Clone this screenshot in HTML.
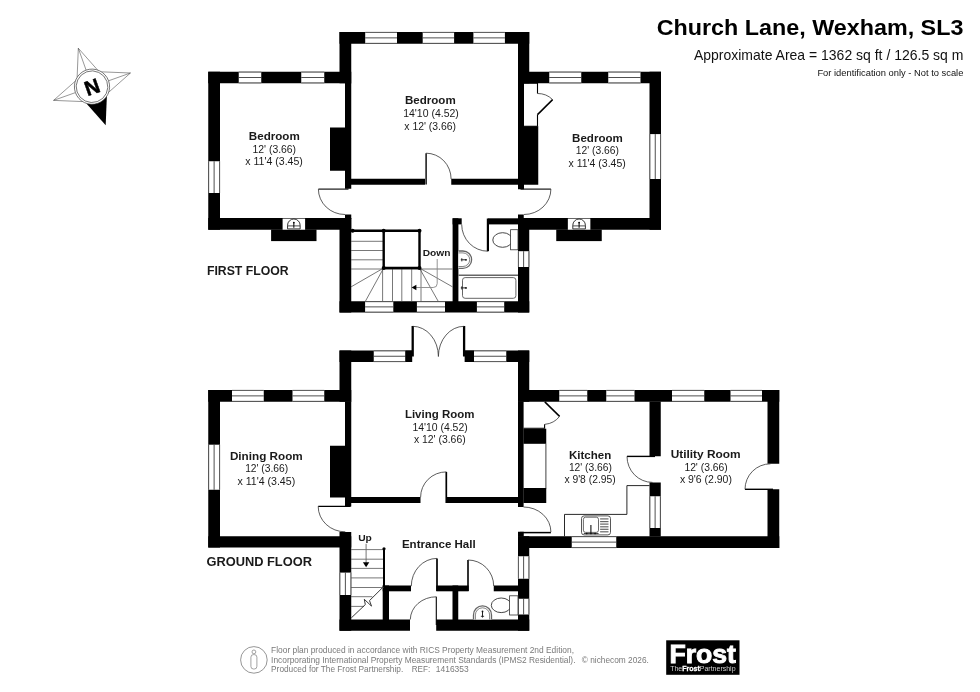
<!DOCTYPE html>
<html><head><meta charset="utf-8"><title>Church Lane, Wexham, SL3 - Floor plan</title>
<style>
html,body{margin:0;padding:0;background:#fff;}
body{width:980px;height:692px;overflow:hidden;font-family:"Liberation Sans",sans-serif;}
svg{display:block;will-change:transform;filter:grayscale(1);font-family:"Liberation Sans",sans-serif;}
</style></head><body>
<svg width="980" height="692" viewBox="0 0 980 692">
<rect width="980" height="692" fill="#fff"/>
<rect x="208.25" y="71.75" width="143.00" height="11.50" fill="#000"/>
<rect x="208.25" y="71.75" width="11.75" height="158.00" fill="#000"/>
<rect x="208.25" y="218.00" width="143.00" height="11.75" fill="#000"/>
<rect x="271.10" y="229.50" width="45.40" height="11.60" fill="#000"/>
<rect x="238.75" y="71.75" width="22.50" height="11.50" fill="#fff"/>
<line x1="238.75" y1="72.15" x2="261.25" y2="72.15" stroke="#222" stroke-width="0.8"/>
<line x1="238.75" y1="77.50" x2="261.25" y2="77.50" stroke="#222" stroke-width="0.8"/>
<line x1="238.75" y1="82.85" x2="261.25" y2="82.85" stroke="#222" stroke-width="0.8"/>
<rect x="301.25" y="71.75" width="23.00" height="11.50" fill="#fff"/>
<line x1="301.25" y1="72.15" x2="324.25" y2="72.15" stroke="#222" stroke-width="0.8"/>
<line x1="301.25" y1="77.50" x2="324.25" y2="77.50" stroke="#222" stroke-width="0.8"/>
<line x1="301.25" y1="82.85" x2="324.25" y2="82.85" stroke="#222" stroke-width="0.8"/>
<rect x="208.25" y="161.25" width="11.75" height="31.75" fill="#fff"/>
<line x1="208.65" y1="161.25" x2="208.65" y2="193.00" stroke="#222" stroke-width="0.8"/>
<line x1="214.12" y1="161.25" x2="214.12" y2="193.00" stroke="#222" stroke-width="0.8"/>
<line x1="219.60" y1="161.25" x2="219.60" y2="193.00" stroke="#222" stroke-width="0.8"/>
<rect x="339.50" y="32.00" width="189.75" height="11.75" fill="#000"/>
<rect x="339.50" y="32.00" width="11.75" height="51.25" fill="#000"/>
<rect x="345.00" y="83.00" width="6.25" height="105.75" fill="#000"/>
<rect x="518.00" y="32.00" width="11.25" height="51.25" fill="#000"/>
<rect x="518.00" y="83.00" width="6.00" height="106.25" fill="#000"/>
<rect x="351.00" y="178.75" width="74.00" height="6.00" fill="#000"/>
<rect x="451.25" y="178.75" width="67.25" height="6.00" fill="#000"/>
<rect x="365.20" y="32.00" width="31.80" height="11.75" fill="#fff"/>
<line x1="365.20" y1="32.40" x2="397.00" y2="32.40" stroke="#222" stroke-width="0.8"/>
<line x1="365.20" y1="37.88" x2="397.00" y2="37.88" stroke="#222" stroke-width="0.8"/>
<line x1="365.20" y1="43.35" x2="397.00" y2="43.35" stroke="#222" stroke-width="0.8"/>
<rect x="422.70" y="32.00" width="31.40" height="11.75" fill="#fff"/>
<line x1="422.70" y1="32.40" x2="454.10" y2="32.40" stroke="#222" stroke-width="0.8"/>
<line x1="422.70" y1="37.88" x2="454.10" y2="37.88" stroke="#222" stroke-width="0.8"/>
<line x1="422.70" y1="43.35" x2="454.10" y2="43.35" stroke="#222" stroke-width="0.8"/>
<rect x="473.40" y="32.00" width="31.50" height="11.75" fill="#fff"/>
<line x1="473.40" y1="32.40" x2="504.90" y2="32.40" stroke="#222" stroke-width="0.8"/>
<line x1="473.40" y1="37.88" x2="504.90" y2="37.88" stroke="#222" stroke-width="0.8"/>
<line x1="473.40" y1="43.35" x2="504.90" y2="43.35" stroke="#222" stroke-width="0.8"/>
<rect x="518.00" y="71.75" width="143.00" height="11.50" fill="#000"/>
<rect x="649.50" y="71.75" width="11.50" height="158.00" fill="#000"/>
<rect x="518.00" y="218.00" width="143.00" height="11.75" fill="#000"/>
<rect x="556.25" y="229.50" width="45.50" height="11.60" fill="#000"/>
<rect x="549.25" y="71.75" width="32.00" height="11.50" fill="#fff"/>
<line x1="549.25" y1="72.15" x2="581.25" y2="72.15" stroke="#222" stroke-width="0.8"/>
<line x1="549.25" y1="77.50" x2="581.25" y2="77.50" stroke="#222" stroke-width="0.8"/>
<line x1="549.25" y1="82.85" x2="581.25" y2="82.85" stroke="#222" stroke-width="0.8"/>
<rect x="608.25" y="71.75" width="32.25" height="11.50" fill="#fff"/>
<line x1="608.25" y1="72.15" x2="640.50" y2="72.15" stroke="#222" stroke-width="0.8"/>
<line x1="608.25" y1="77.50" x2="640.50" y2="77.50" stroke="#222" stroke-width="0.8"/>
<line x1="608.25" y1="82.85" x2="640.50" y2="82.85" stroke="#222" stroke-width="0.8"/>
<rect x="649.50" y="134.10" width="11.50" height="44.90" fill="#fff"/>
<line x1="649.90" y1="134.10" x2="649.90" y2="179.00" stroke="#222" stroke-width="0.8"/>
<line x1="655.25" y1="134.10" x2="655.25" y2="179.00" stroke="#222" stroke-width="0.8"/>
<line x1="660.60" y1="134.10" x2="660.60" y2="179.00" stroke="#222" stroke-width="0.8"/>
<rect x="330.00" y="127.50" width="16.00" height="43.25" fill="#000"/>
<rect x="523.50" y="126.25" width="14.75" height="58.50" fill="#000"/>
<rect x="339.50" y="218.00" width="11.75" height="94.50" fill="#000"/>
<rect x="345.00" y="214.50" width="6.25" height="4.50" fill="#000"/>
<rect x="339.50" y="301.25" width="189.75" height="11.25" fill="#000"/>
<rect x="518.00" y="218.00" width="11.25" height="94.50" fill="#000"/>
<rect x="518.00" y="214.50" width="5.75" height="4.50" fill="#000"/>
<rect x="452.60" y="218.30" width="5.80" height="83.70" fill="#000"/>
<rect x="452.60" y="218.30" width="9.10" height="6.10" fill="#000"/>
<rect x="488.30" y="218.30" width="30.20" height="6.10" fill="#000"/>
<rect x="365.10" y="301.25" width="28.20" height="11.25" fill="#fff"/>
<line x1="365.10" y1="301.65" x2="393.30" y2="301.65" stroke="#222" stroke-width="0.8"/>
<line x1="365.10" y1="306.88" x2="393.30" y2="306.88" stroke="#222" stroke-width="0.8"/>
<line x1="365.10" y1="312.10" x2="393.30" y2="312.10" stroke="#222" stroke-width="0.8"/>
<rect x="416.90" y="301.25" width="28.10" height="11.25" fill="#fff"/>
<line x1="416.90" y1="301.65" x2="445.00" y2="301.65" stroke="#222" stroke-width="0.8"/>
<line x1="416.90" y1="306.88" x2="445.00" y2="306.88" stroke="#222" stroke-width="0.8"/>
<line x1="416.90" y1="312.10" x2="445.00" y2="312.10" stroke="#222" stroke-width="0.8"/>
<rect x="476.90" y="301.25" width="27.30" height="11.25" fill="#fff"/>
<line x1="476.90" y1="301.65" x2="504.20" y2="301.65" stroke="#222" stroke-width="0.8"/>
<line x1="476.90" y1="306.88" x2="504.20" y2="306.88" stroke="#222" stroke-width="0.8"/>
<line x1="476.90" y1="312.10" x2="504.20" y2="312.10" stroke="#222" stroke-width="0.8"/>
<rect x="518.00" y="251.20" width="11.25" height="15.80" fill="#fff"/>
<line x1="518.40" y1="251.20" x2="518.40" y2="267.00" stroke="#222" stroke-width="0.8"/>
<line x1="523.62" y1="251.20" x2="523.62" y2="267.00" stroke="#222" stroke-width="0.8"/>
<line x1="528.85" y1="251.20" x2="528.85" y2="267.00" stroke="#222" stroke-width="0.8"/>
<rect x="208.25" y="390.00" width="143.00" height="11.75" fill="#000"/>
<rect x="208.25" y="390.00" width="11.75" height="157.50" fill="#000"/>
<rect x="208.25" y="536.25" width="143.00" height="11.25" fill="#000"/>
<rect x="232.00" y="390.00" width="31.75" height="11.75" fill="#fff"/>
<line x1="232.00" y1="390.40" x2="263.75" y2="390.40" stroke="#222" stroke-width="0.8"/>
<line x1="232.00" y1="395.88" x2="263.75" y2="395.88" stroke="#222" stroke-width="0.8"/>
<line x1="232.00" y1="401.35" x2="263.75" y2="401.35" stroke="#222" stroke-width="0.8"/>
<rect x="292.50" y="390.00" width="31.75" height="11.75" fill="#fff"/>
<line x1="292.50" y1="390.40" x2="324.25" y2="390.40" stroke="#222" stroke-width="0.8"/>
<line x1="292.50" y1="395.88" x2="324.25" y2="395.88" stroke="#222" stroke-width="0.8"/>
<line x1="292.50" y1="401.35" x2="324.25" y2="401.35" stroke="#222" stroke-width="0.8"/>
<rect x="208.25" y="444.70" width="11.75" height="45.05" fill="#fff"/>
<line x1="208.65" y1="444.70" x2="208.65" y2="489.75" stroke="#222" stroke-width="0.8"/>
<line x1="214.12" y1="444.70" x2="214.12" y2="489.75" stroke="#222" stroke-width="0.8"/>
<line x1="219.60" y1="444.70" x2="219.60" y2="489.75" stroke="#222" stroke-width="0.8"/>
<rect x="330.00" y="445.75" width="16.00" height="51.75" fill="#000"/>
<rect x="339.50" y="350.50" width="72.50" height="11.50" fill="#000"/>
<rect x="464.80" y="350.50" width="64.45" height="11.50" fill="#000"/>
<rect x="339.50" y="350.50" width="11.75" height="51.25" fill="#000"/>
<rect x="345.00" y="401.50" width="6.25" height="105.00" fill="#000"/>
<rect x="518.00" y="350.50" width="11.25" height="51.25" fill="#000"/>
<rect x="518.00" y="401.50" width="5.60" height="105.50" fill="#000"/>
<rect x="351.00" y="497.00" width="69.50" height="6.00" fill="#000"/>
<rect x="446.25" y="497.00" width="72.25" height="6.00" fill="#000"/>
<rect x="373.75" y="350.50" width="31.75" height="11.50" fill="#fff"/>
<line x1="373.75" y1="350.90" x2="405.50" y2="350.90" stroke="#222" stroke-width="0.8"/>
<line x1="373.75" y1="356.25" x2="405.50" y2="356.25" stroke="#222" stroke-width="0.8"/>
<line x1="373.75" y1="361.60" x2="405.50" y2="361.60" stroke="#222" stroke-width="0.8"/>
<rect x="473.90" y="350.50" width="32.35" height="11.50" fill="#fff"/>
<line x1="473.90" y1="350.90" x2="506.25" y2="350.90" stroke="#222" stroke-width="0.8"/>
<line x1="473.90" y1="356.25" x2="506.25" y2="356.25" stroke="#222" stroke-width="0.8"/>
<line x1="473.90" y1="361.60" x2="506.25" y2="361.60" stroke="#222" stroke-width="0.8"/>
<rect x="518.00" y="390.00" width="261.25" height="11.75" fill="#000"/>
<rect x="767.50" y="390.00" width="11.75" height="73.75" fill="#000"/>
<rect x="767.50" y="489.25" width="11.75" height="58.75" fill="#000"/>
<rect x="518.00" y="536.25" width="261.25" height="11.75" fill="#000"/>
<rect x="649.50" y="401.50" width="11.25" height="54.75" fill="#000"/>
<rect x="649.50" y="482.50" width="11.25" height="54.00" fill="#000"/>
<rect x="559.25" y="390.00" width="28.00" height="11.75" fill="#fff"/>
<line x1="559.25" y1="390.40" x2="587.25" y2="390.40" stroke="#222" stroke-width="0.8"/>
<line x1="559.25" y1="395.88" x2="587.25" y2="395.88" stroke="#222" stroke-width="0.8"/>
<line x1="559.25" y1="401.35" x2="587.25" y2="401.35" stroke="#222" stroke-width="0.8"/>
<rect x="606.25" y="390.00" width="28.25" height="11.75" fill="#fff"/>
<line x1="606.25" y1="390.40" x2="634.50" y2="390.40" stroke="#222" stroke-width="0.8"/>
<line x1="606.25" y1="395.88" x2="634.50" y2="395.88" stroke="#222" stroke-width="0.8"/>
<line x1="606.25" y1="401.35" x2="634.50" y2="401.35" stroke="#222" stroke-width="0.8"/>
<rect x="672.00" y="390.00" width="32.25" height="11.75" fill="#fff"/>
<line x1="672.00" y1="390.40" x2="704.25" y2="390.40" stroke="#222" stroke-width="0.8"/>
<line x1="672.00" y1="395.88" x2="704.25" y2="395.88" stroke="#222" stroke-width="0.8"/>
<line x1="672.00" y1="401.35" x2="704.25" y2="401.35" stroke="#222" stroke-width="0.8"/>
<rect x="730.50" y="390.00" width="31.50" height="11.75" fill="#fff"/>
<line x1="730.50" y1="390.40" x2="762.00" y2="390.40" stroke="#222" stroke-width="0.8"/>
<line x1="730.50" y1="395.88" x2="762.00" y2="395.88" stroke="#222" stroke-width="0.8"/>
<line x1="730.50" y1="401.35" x2="762.00" y2="401.35" stroke="#222" stroke-width="0.8"/>
<rect x="571.75" y="536.25" width="44.50" height="11.75" fill="#fff"/>
<line x1="571.75" y1="536.65" x2="616.25" y2="536.65" stroke="#222" stroke-width="0.8"/>
<line x1="571.75" y1="542.12" x2="616.25" y2="542.12" stroke="#222" stroke-width="0.8"/>
<line x1="571.75" y1="547.60" x2="616.25" y2="547.60" stroke="#222" stroke-width="0.8"/>
<rect x="649.50" y="496.25" width="11.25" height="31.75" fill="#fff"/>
<line x1="649.90" y1="496.25" x2="649.90" y2="528.00" stroke="#222" stroke-width="0.8"/>
<line x1="655.12" y1="496.25" x2="655.12" y2="528.00" stroke="#222" stroke-width="0.8"/>
<line x1="660.35" y1="496.25" x2="660.35" y2="528.00" stroke="#222" stroke-width="0.8"/>
<rect x="523.40" y="428.70" width="22.85" height="15.10" fill="#000"/>
<rect x="523.40" y="488.00" width="22.85" height="15.00" fill="#000"/>
<rect x="518.00" y="531.75" width="5.75" height="4.75" fill="#000"/>
<rect x="339.50" y="532.00" width="11.75" height="98.75" fill="#000"/>
<rect x="518.00" y="536.25" width="11.25" height="94.50" fill="#000"/>
<rect x="339.50" y="619.50" width="70.50" height="11.25" fill="#000"/>
<rect x="436.20" y="619.50" width="93.05" height="11.25" fill="#000"/>
<rect x="382.70" y="585.50" width="28.30" height="5.80" fill="#000"/>
<rect x="436.30" y="585.50" width="32.30" height="5.80" fill="#000"/>
<rect x="493.75" y="585.50" width="24.75" height="5.80" fill="#000"/>
<rect x="382.70" y="585.50" width="6.30" height="34.50" fill="#000"/>
<rect x="452.50" y="585.50" width="5.75" height="34.50" fill="#000"/>
<rect x="339.50" y="572.60" width="11.75" height="22.40" fill="#fff"/>
<line x1="339.90" y1="572.60" x2="339.90" y2="595.00" stroke="#222" stroke-width="0.8"/>
<line x1="345.38" y1="572.60" x2="345.38" y2="595.00" stroke="#222" stroke-width="0.8"/>
<line x1="350.85" y1="572.60" x2="350.85" y2="595.00" stroke="#222" stroke-width="0.8"/>
<rect x="518.00" y="556.25" width="11.25" height="22.50" fill="#fff"/>
<line x1="518.40" y1="556.25" x2="518.40" y2="578.75" stroke="#222" stroke-width="0.8"/>
<line x1="523.62" y1="556.25" x2="523.62" y2="578.75" stroke="#222" stroke-width="0.8"/>
<line x1="528.85" y1="556.25" x2="528.85" y2="578.75" stroke="#222" stroke-width="0.8"/>
<rect x="518.00" y="598.75" width="11.25" height="15.75" fill="#fff"/>
<line x1="518.40" y1="598.75" x2="518.40" y2="614.50" stroke="#222" stroke-width="0.8"/>
<line x1="523.62" y1="598.75" x2="523.62" y2="614.50" stroke="#222" stroke-width="0.8"/>
<line x1="528.85" y1="598.75" x2="528.85" y2="614.50" stroke="#222" stroke-width="0.8"/>
<line x1="426.10" y1="153.20" x2="426.10" y2="184.60" stroke="#000" stroke-width="1.4" stroke-linecap="butt"/>
<path d="M426.1,153.2 A25,25.8 0 0 1 451.1,179" stroke="#333" stroke-width="0.8" fill="none" />
<line x1="318.40" y1="189.10" x2="348.50" y2="189.10" stroke="#000" stroke-width="1.1" stroke-linecap="butt"/>
<path d="M318.4,189.1 A26.6,25.4 0 0 0 345,214.5" stroke="#333" stroke-width="0.8" fill="none" />
<line x1="520.50" y1="189.10" x2="550.90" y2="189.10" stroke="#000" stroke-width="1.1" stroke-linecap="butt"/>
<path d="M550.9,189.1 A27,25.4 0 0 1 523.9,214.5" stroke="#333" stroke-width="0.8" fill="none" />
<line x1="487.90" y1="218.50" x2="487.90" y2="251.20" stroke="#000" stroke-width="2.2" stroke-linecap="butt"/>
<path d="M461.7,224.4 A26.2,26.8 0 0 0 487.9,251.2" stroke="#333" stroke-width="0.8" fill="none" />
<path d="M524,83.25 H537.5 V93.5 M537.5,114.5 V126.25 H524" stroke="#000" stroke-width="1.1" fill="none" />
<path d="M537.5,93.5 A21.2,21.2 0 0 1 552.6,99.6" stroke="#333" stroke-width="0.8" fill="none" />
<line x1="552.60" y1="99.60" x2="537.50" y2="114.60" stroke="#000" stroke-width="1.5" stroke-linecap="butt"/>
<line x1="412.70" y1="326.00" x2="412.70" y2="356.50" stroke="#000" stroke-width="2.3" stroke-linecap="butt"/>
<line x1="464.10" y1="326.00" x2="464.10" y2="356.50" stroke="#000" stroke-width="2.3" stroke-linecap="butt"/>
<path d="M412.7,326.3 A25.7,30.2 0 0 1 438.4,356.5" stroke="#333" stroke-width="0.8" fill="none" />
<path d="M464.1,326.3 A25.7,30.2 0 0 0 438.4,356.5" stroke="#333" stroke-width="0.8" fill="none" />
<rect x="405.40" y="350.50" width="6.80" height="11.50" fill="#000"/>
<rect x="464.80" y="350.50" width="9.20" height="11.50" fill="#000"/>
<line x1="446.30" y1="471.90" x2="446.30" y2="503.00" stroke="#000" stroke-width="1.7" stroke-linecap="butt"/>
<path d="M446.3,471.9 A25.7,25.3 0 0 0 420.6,497.2" stroke="#333" stroke-width="0.8" fill="none" />
<line x1="318.20" y1="506.40" x2="350.50" y2="506.40" stroke="#000" stroke-width="1.3" stroke-linecap="butt"/>
<path d="M318.2,506.4 A27,25.4 0 0 0 345.3,531.8" stroke="#333" stroke-width="0.8" fill="none" />
<line x1="520.00" y1="532.60" x2="550.90" y2="532.60" stroke="#000" stroke-width="1.5" stroke-linecap="butt"/>
<path d="M550.9,532 A27.4,25 0 0 0 523.5,507" stroke="#333" stroke-width="0.8" fill="none" />
<line x1="627.00" y1="456.40" x2="655.00" y2="456.40" stroke="#000" stroke-width="1.4" stroke-linecap="butt"/>
<path d="M627,456.4 A25.5,26 0 0 0 652.5,482.4" stroke="#333" stroke-width="0.8" fill="none" />
<line x1="745.00" y1="489.30" x2="773.00" y2="489.30" stroke="#000" stroke-width="1.4" stroke-linecap="butt"/>
<path d="M745,489.3 A25.5,25.5 0 0 1 770.5,463.8" stroke="#333" stroke-width="0.8" fill="none" />
<line x1="437.00" y1="558.40" x2="437.00" y2="591.00" stroke="#000" stroke-width="1.7" stroke-linecap="butt"/>
<path d="M437,558.4 A25.7,27.8 0 0 0 411.3,586.2" stroke="#333" stroke-width="0.8" fill="none" />
<line x1="468.00" y1="560.00" x2="468.00" y2="591.00" stroke="#000" stroke-width="1.6" stroke-linecap="butt"/>
<path d="M468,560 A25.7,26 0 0 1 493.7,586" stroke="#333" stroke-width="0.8" fill="none" />
<line x1="436.30" y1="596.80" x2="436.30" y2="625.00" stroke="#000" stroke-width="1.1" stroke-linecap="butt"/>
<path d="M436.3,596.8 A26,23 0 0 0 410.3,619.5" stroke="#333" stroke-width="0.8" fill="none" />
<path d="M523.6,428.2 H544.6 V424.3" stroke="#000" stroke-width="1.1" fill="none" />
<line x1="544.80" y1="401.90" x2="559.60" y2="416.40" stroke="#000" stroke-width="1.5" stroke-linecap="butt"/>
<path d="M559.6,416.4 A21,21 0 0 1 545,424.3" stroke="#333" stroke-width="0.8" fill="none" />
<line x1="545.90" y1="443.75" x2="545.90" y2="488.50" stroke="#111" stroke-width="0.8" stroke-linecap="butt"/>
<path d="M649.5,485.6 H626.9 V514.4 H564.5 V536.25" stroke="#111" stroke-width="0.9" fill="none" />
<rect x="282.60" y="218.60" width="22.50" height="11.10" fill="#fff"/>
<path d="M287.55,228.9 V225.3 A6.3,6.3 0 0 1 300.15,225.3 V228.9 Z" stroke="#222" stroke-width="0.9" fill="none" />
<line x1="287.55" y1="225.90" x2="300.15" y2="225.90" stroke="#222" stroke-width="0.8" stroke-linecap="butt"/>
<line x1="293.85" y1="222.60" x2="293.85" y2="227.80" stroke="#000" stroke-width="1.0" stroke-linecap="butt"/>
<circle cx="293.85" cy="222.6" r="0.9" fill="#000"/>
<rect x="567.85" y="218.60" width="22.50" height="11.10" fill="#fff"/>
<path d="M572.80,228.9 V225.3 A6.3,6.3 0 0 1 585.40,225.3 V228.9 Z" stroke="#222" stroke-width="0.9" fill="none" />
<line x1="572.80" y1="225.90" x2="585.40" y2="225.90" stroke="#222" stroke-width="0.8" stroke-linecap="butt"/>
<line x1="579.10" y1="222.60" x2="579.10" y2="227.80" stroke="#000" stroke-width="1.0" stroke-linecap="butt"/>
<circle cx="579.10" cy="222.6" r="0.9" fill="#000"/>
<ellipse cx="502.6" cy="240" rx="9.8" ry="7.3" fill="#fff" stroke="#333" stroke-width="0.9"/>
<rect x="510.6" y="229.7" width="7.4" height="20.1" fill="#fff" stroke="#333" stroke-width="0.8"/>
<path d="M458.4,251 H462.9 A8.7,8.7 0 0 1 462.9,268.4 H458.4" stroke="#666" stroke-width="1.3" fill="#fff" />
<path d="M458.4,252.9 H462.9 A6.8,6.8 0 0 1 462.9,266.5 H458.4" stroke="#333" stroke-width="0.6" fill="none" />
<line x1="460.80" y1="259.80" x2="466.20" y2="259.80" stroke="#222" stroke-width="1.0" stroke-linecap="butt"/>
<line x1="461.80" y1="258.20" x2="461.80" y2="261.40" stroke="#222" stroke-width="0.9" stroke-linecap="butt"/>
<circle cx="466.00" cy="259.80" r="0.9" fill="#111"/>
<line x1="458.40" y1="275.30" x2="518.00" y2="275.30" stroke="#666" stroke-width="1.4" stroke-linecap="butt"/>
<rect x="462.5" y="277.6" width="53.4" height="20.7" rx="2.6" ry="2.6" fill="#fff" stroke="#555" stroke-width="0.9"/>
<line x1="460.80" y1="287.90" x2="466.20" y2="287.90" stroke="#222" stroke-width="1.0" stroke-linecap="butt"/>
<line x1="461.80" y1="286.30" x2="461.80" y2="289.50" stroke="#222" stroke-width="0.9" stroke-linecap="butt"/>
<circle cx="466.00" cy="287.90" r="0.9" fill="#111"/>
<ellipse cx="501.2" cy="605.3" rx="9.9" ry="7.3" fill="#fff" stroke="#333" stroke-width="0.9"/>
<rect x="509.6" y="595.8" width="8.4" height="19.2" fill="#fff" stroke="#333" stroke-width="0.8"/>
<path d="M473.5,619.5 V614.9 A9,9 0 0 1 491.5,614.9 V619.5" stroke="#666" stroke-width="1.3" fill="#fff" />
<path d="M475.4,619.5 V614.9 A7.1,7.1 0 0 1 489.6,614.9 V619.5" stroke="#333" stroke-width="0.6" fill="none" />
<line x1="482.50" y1="611.50" x2="482.50" y2="617.50" stroke="#222" stroke-width="1.0" stroke-linecap="butt"/>
<line x1="480.90" y1="616.30" x2="484.10" y2="616.30" stroke="#222" stroke-width="0.9" stroke-linecap="butt"/>
<circle cx="482.5" cy="611.5" r="0.9" fill="#111"/>
<rect x="581.5" y="515.9" width="29" height="19" rx="2.6" fill="#fff" stroke="#444" stroke-width="0.9"/>
<rect x="583.4" y="517.2" width="15.1" height="15.2" rx="2.2" fill="#fff" stroke="#444" stroke-width="0.8"/>
<line x1="600.10" y1="518.90" x2="608.50" y2="518.90" stroke="#666" stroke-width="1.2" stroke-linecap="butt"/>
<line x1="600.10" y1="521.60" x2="608.50" y2="521.60" stroke="#666" stroke-width="1.2" stroke-linecap="butt"/>
<line x1="600.10" y1="524.10" x2="608.50" y2="524.10" stroke="#666" stroke-width="1.2" stroke-linecap="butt"/>
<line x1="600.10" y1="526.80" x2="608.50" y2="526.80" stroke="#666" stroke-width="1.2" stroke-linecap="butt"/>
<line x1="600.10" y1="529.30" x2="608.50" y2="529.30" stroke="#666" stroke-width="1.2" stroke-linecap="butt"/>
<line x1="600.10" y1="531.80" x2="608.50" y2="531.80" stroke="#666" stroke-width="1.2" stroke-linecap="butt"/>
<line x1="590.90" y1="525.00" x2="590.90" y2="533.40" stroke="#111" stroke-width="1.1" stroke-linecap="butt"/>
<line x1="583.80" y1="533.50" x2="598.60" y2="533.50" stroke="#333" stroke-width="0.9" stroke-linecap="butt"/>
<circle cx="586.70" cy="533.5" r="0.85" fill="#111"/>
<circle cx="590.90" cy="533.5" r="0.85" fill="#111"/>
<circle cx="595.10" cy="533.5" r="0.85" fill="#111"/>
<line x1="351.00" y1="241.30" x2="383.70" y2="241.30" stroke="#555" stroke-width="0.8" stroke-linecap="butt"/>
<line x1="351.00" y1="250.50" x2="383.70" y2="250.50" stroke="#555" stroke-width="0.8" stroke-linecap="butt"/>
<line x1="351.00" y1="259.80" x2="383.70" y2="259.80" stroke="#555" stroke-width="0.8" stroke-linecap="butt"/>
<line x1="351.00" y1="269.00" x2="452.60" y2="269.00" stroke="#555" stroke-width="0.8" stroke-linecap="butt"/>
<line x1="382.60" y1="269.00" x2="382.60" y2="301.25" stroke="#555" stroke-width="0.8" stroke-linecap="butt"/>
<line x1="392.50" y1="269.00" x2="392.50" y2="301.25" stroke="#555" stroke-width="0.8" stroke-linecap="butt"/>
<line x1="401.80" y1="269.00" x2="401.80" y2="301.25" stroke="#555" stroke-width="0.8" stroke-linecap="butt"/>
<line x1="411.70" y1="269.00" x2="411.70" y2="301.25" stroke="#555" stroke-width="0.8" stroke-linecap="butt"/>
<line x1="421.00" y1="269.00" x2="421.00" y2="301.25" stroke="#555" stroke-width="0.8" stroke-linecap="butt"/>
<line x1="383.70" y1="268.00" x2="351.00" y2="286.90" stroke="#555" stroke-width="0.8" stroke-linecap="butt"/>
<line x1="383.70" y1="268.00" x2="365.40" y2="301.25" stroke="#555" stroke-width="0.8" stroke-linecap="butt"/>
<line x1="419.40" y1="268.00" x2="438.20" y2="301.25" stroke="#555" stroke-width="0.8" stroke-linecap="butt"/>
<line x1="419.40" y1="268.00" x2="452.60" y2="286.90" stroke="#555" stroke-width="0.8" stroke-linecap="butt"/>
<path d="M352.4,230.7 H419.5 V268 H383.7 V230.7" stroke="#000" stroke-width="2.4" fill="#fff" stroke-linejoin="round"/>
<circle cx="352.6" cy="230.7" r="2.0" fill="#000"/>
<circle cx="383.7" cy="230.7" r="2.0" fill="#000"/>
<circle cx="419.5" cy="230.7" r="2.0" fill="#000"/>
<circle cx="383.7" cy="268" r="2.0" fill="#000"/>
<circle cx="419.5" cy="268" r="2.0" fill="#000"/>
<path d="M437.2,259 V283.6 Q437.2,287.5 433.2,287.5 H416" stroke="#888" stroke-width="0.9" fill="none" />
<polygon points="411.6,287.5 416.4,284.7 416.4,290.3" fill="#000"/>
<line x1="351.00" y1="549.60" x2="383.50" y2="549.60" stroke="#555" stroke-width="0.8" stroke-linecap="butt"/>
<line x1="351.00" y1="559.20" x2="383.50" y2="559.20" stroke="#555" stroke-width="0.8" stroke-linecap="butt"/>
<line x1="351.00" y1="568.40" x2="383.50" y2="568.40" stroke="#555" stroke-width="0.8" stroke-linecap="butt"/>
<line x1="351.00" y1="577.90" x2="383.50" y2="577.90" stroke="#555" stroke-width="0.8" stroke-linecap="butt"/>
<line x1="351.00" y1="587.50" x2="383.50" y2="587.50" stroke="#555" stroke-width="0.8" stroke-linecap="butt"/>
<line x1="351.00" y1="596.70" x2="372.30" y2="596.70" stroke="#555" stroke-width="0.8" stroke-linecap="butt"/>
<line x1="351.00" y1="606.40" x2="364.00" y2="606.40" stroke="#555" stroke-width="0.8" stroke-linecap="butt"/>
<line x1="384.00" y1="548.80" x2="384.00" y2="586.00" stroke="#000" stroke-width="2.0" stroke-linecap="butt"/>
<circle cx="384" cy="548.8" r="1.6" fill="#000"/>
<path d="M351.3,617.9 L365.3,604.6 L364.3,599.3 L371.5,606.1 L369.5,600.6 L382.3,587.9" stroke="#222" stroke-width="0.9" fill="none" />
<line x1="366.10" y1="543.80" x2="366.10" y2="563.00" stroke="#666" stroke-width="0.9" stroke-linecap="butt"/>
<polygon points="366.1,567.2 362.9,562.2 369.3,562.2" fill="#000"/>
<text x="248.80" y="139.60" font-size="11.3" font-weight="bold" fill="#1a1a1a" textLength="51.00" lengthAdjust="spacingAndGlyphs">Bedroom</text>
<text x="252.50" y="152.50" font-size="10.2" font-weight="normal" fill="#1a1a1a" textLength="43.60" lengthAdjust="spacingAndGlyphs">12' (3.66)</text>
<text x="245.30" y="165.30" font-size="10.2" font-weight="normal" fill="#1a1a1a" textLength="57.60" lengthAdjust="spacingAndGlyphs">x 11'4 (3.45)</text>
<text x="404.90" y="103.90" font-size="11.3" font-weight="bold" fill="#1a1a1a" textLength="50.80" lengthAdjust="spacingAndGlyphs">Bedroom</text>
<text x="403.20" y="116.70" font-size="10.2" font-weight="normal" fill="#1a1a1a" textLength="55.60" lengthAdjust="spacingAndGlyphs">14'10 (4.52)</text>
<text x="404.30" y="129.70" font-size="10.2" font-weight="normal" fill="#1a1a1a" textLength="51.70" lengthAdjust="spacingAndGlyphs">x 12' (3.66)</text>
<text x="572.10" y="141.70" font-size="11.3" font-weight="bold" fill="#1a1a1a" textLength="50.70" lengthAdjust="spacingAndGlyphs">Bedroom</text>
<text x="575.80" y="154.30" font-size="10.2" font-weight="normal" fill="#1a1a1a" textLength="43.20" lengthAdjust="spacingAndGlyphs">12' (3.66)</text>
<text x="568.50" y="167.40" font-size="10.2" font-weight="normal" fill="#1a1a1a" textLength="57.30" lengthAdjust="spacingAndGlyphs">x 11'4 (3.45)</text>
<text x="229.90" y="459.50" font-size="11.3" font-weight="bold" fill="#1a1a1a" textLength="72.80" lengthAdjust="spacingAndGlyphs">Dining Room</text>
<text x="245.15" y="472.00" font-size="10.2" font-weight="normal" fill="#1a1a1a" textLength="43.05" lengthAdjust="spacingAndGlyphs">12' (3.66)</text>
<text x="237.40" y="484.50" font-size="10.2" font-weight="normal" fill="#1a1a1a" textLength="57.80" lengthAdjust="spacingAndGlyphs">x 11'4 (3.45)</text>
<text x="404.90" y="418.00" font-size="11.3" font-weight="bold" fill="#1a1a1a" textLength="69.55" lengthAdjust="spacingAndGlyphs">Living Room</text>
<text x="412.40" y="430.50" font-size="10.2" font-weight="normal" fill="#1a1a1a" textLength="55.30" lengthAdjust="spacingAndGlyphs">14'10 (4.52)</text>
<text x="413.90" y="443.00" font-size="10.2" font-weight="normal" fill="#1a1a1a" textLength="51.80" lengthAdjust="spacingAndGlyphs">x 12' (3.66)</text>
<text x="568.90" y="458.75" font-size="11.3" font-weight="bold" fill="#1a1a1a" textLength="42.30" lengthAdjust="spacingAndGlyphs">Kitchen</text>
<text x="568.90" y="470.75" font-size="10.2" font-weight="normal" fill="#1a1a1a" textLength="43.05" lengthAdjust="spacingAndGlyphs">12' (3.66)</text>
<text x="564.40" y="483.25" font-size="10.2" font-weight="normal" fill="#1a1a1a" textLength="51.30" lengthAdjust="spacingAndGlyphs">x 9'8 (2.95)</text>
<text x="670.65" y="458.00" font-size="11.3" font-weight="bold" fill="#1a1a1a" textLength="70.05" lengthAdjust="spacingAndGlyphs">Utility Room</text>
<text x="684.40" y="470.50" font-size="10.2" font-weight="normal" fill="#1a1a1a" textLength="43.30" lengthAdjust="spacingAndGlyphs">12' (3.66)</text>
<text x="679.90" y="483.25" font-size="10.2" font-weight="normal" fill="#1a1a1a" textLength="52.05" lengthAdjust="spacingAndGlyphs">x 9'6 (2.90)</text>
<text x="401.90" y="548.00" font-size="11.3" font-weight="bold" fill="#1a1a1a" textLength="73.80" lengthAdjust="spacingAndGlyphs">Entrance Hall</text>
<text x="422.70" y="256.40" font-size="9.7" font-weight="bold" fill="#1a1a1a" textLength="27.80" lengthAdjust="spacingAndGlyphs">Down</text>
<text x="358.20" y="540.90" font-size="9.3" font-weight="bold" fill="#1a1a1a" textLength="13.70" lengthAdjust="spacingAndGlyphs">Up</text>
<text x="206.90" y="274.50" font-size="12.3" font-weight="bold" fill="#1a1a1a" textLength="81.80" lengthAdjust="spacingAndGlyphs">FIRST FLOOR</text>
<text x="206.40" y="565.50" font-size="12.6" font-weight="bold" fill="#1a1a1a" textLength="105.55" lengthAdjust="spacingAndGlyphs">GROUND FLOOR</text>
<text x="656.70" y="35.20" font-size="22.5" font-weight="bold" fill="#000" textLength="306.70" lengthAdjust="spacingAndGlyphs">Church Lane, Wexham, SL3</text>
<text x="693.90" y="59.70" font-size="13.9" font-weight="normal" fill="#111" textLength="269.50" lengthAdjust="spacingAndGlyphs">Approximate Area = 1362 sq ft / 126.5 sq m</text>
<text x="817.40" y="76.30" font-size="9.3" font-weight="normal" fill="#111" textLength="146.00" lengthAdjust="spacingAndGlyphs">For identification only - Not to scale</text>
<text x="271.10" y="652.70" font-size="8.35" font-weight="normal" fill="#7a7a7a" textLength="302.90" lengthAdjust="spacingAndGlyphs">Floor plan produced in accordance with RICS Property Measurement 2nd Edition,</text>
<text x="271.10" y="662.50" font-size="8.35" font-weight="normal" fill="#7a7a7a" textLength="304.40" lengthAdjust="spacingAndGlyphs">Incorporating International Property Measurement Standards (IPMS2 Residential).</text>
<text x="581.80" y="662.50" font-size="8.35" font-weight="normal" fill="#7a7a7a" textLength="67.10" lengthAdjust="spacingAndGlyphs">© nichecom 2026.</text>
<text x="271.10" y="672.30" font-size="8.35" font-weight="normal" fill="#7a7a7a" textLength="132.10" lengthAdjust="spacingAndGlyphs">Produced for The Frost Partnership.</text>
<text x="411.70" y="672.30" font-size="8.35" font-weight="normal" fill="#7a7a7a" textLength="18.50" lengthAdjust="spacingAndGlyphs">REF:</text>
<text x="435.80" y="672.30" font-size="8.35" font-weight="normal" fill="#7a7a7a" textLength="32.90" lengthAdjust="spacingAndGlyphs">1416353</text>
<circle cx="253.9" cy="659.9" r="13.3" fill="none" stroke="#8a8a8a" stroke-width="0.9"/>
<circle cx="253.9" cy="651.9" r="1.9" fill="none" stroke="#8a8a8a" stroke-width="0.8"/>
<rect x="250.9" y="654.6" width="6" height="14.4" rx="2.6" fill="none" stroke="#8a8a8a" stroke-width="0.8"/>
<rect x="666.20" y="640.30" width="73.30" height="34.50" fill="#000"/>
<text x="669.4" y="662.7" font-size="25.6" font-weight="bold" fill="#fff" stroke="#fff" stroke-width="0.9" textLength="66.6" lengthAdjust="spacingAndGlyphs">Frost</text>
<text x="670.2" y="671.3" font-size="6.9" fill="#d0d0d0" textLength="65.4" lengthAdjust="spacingAndGlyphs">The<tspan font-weight="bold" fill="#fff" stroke="#fff" stroke-width="0.3">Frost</tspan>Partnership</text>
<g transform="translate(92,86.7) rotate(-19.6)">
<g transform="rotate(0)"><path d="M0,-40.8 L-10.84,-13.87 M0,-40.8 L10.84,-13.87 M0,-40.8 L0,-17.6" stroke="#444" stroke-width="0.5" fill="none"/></g>
<g transform="rotate(90)"><path d="M0,-40.8 L-10.84,-13.87 M0,-40.8 L10.84,-13.87 M0,-40.8 L0,-17.6" stroke="#444" stroke-width="0.5" fill="none"/></g>
<g transform="rotate(270)"><path d="M0,-40.8 L-10.84,-13.87 M0,-40.8 L10.84,-13.87 M0,-40.8 L0,-17.6" stroke="#444" stroke-width="0.5" fill="none"/></g>
<g transform="rotate(180)"><path d="M0,-40.8 L-10.84,-13.87 L10.84,-13.87 Z" fill="#000"/></g>
<circle r="17.6" fill="#fff" stroke="#333" stroke-width="0.6"/>
<circle r="15.8" fill="none" stroke="#333" stroke-width="0.6"/>
<text x="0" y="7.4" font-size="20.5" font-weight="bold" text-anchor="middle" fill="#000" stroke="#000" stroke-width="0.5">N</text>
</g>
</svg>
</body></html>
